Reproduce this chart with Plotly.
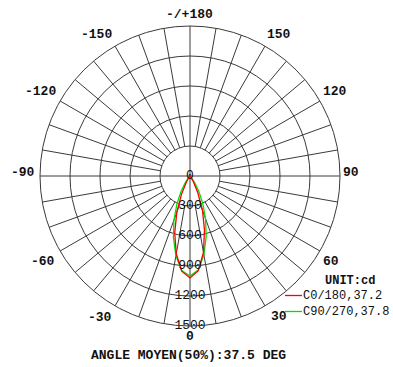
import plotly.graph_objects as go

W, H = 393, 367

# gamma angle (deg) and luminous intensity (cd)
gamma = [0, 5, 10, 15, 20, 25, 30, 35, 40, 45, 50, 60, 90]
c0 = [1020, 950, 775, 560, 365, 185, 70, 20, 5, 0, 0, 0, 0]
c180 = [1020, 955, 790, 590, 385, 200, 75, 22, 6, 0, 0, 0, 0]
c90 = [1000, 945, 800, 625, 455, 300, 175, 85, 30, 8, 0, 0, 0]
c270 = [1000, 950, 810, 640, 470, 310, 180, 88, 32, 9, 0, 0, 0]

ring_vals = [0, 300, 600, 900, 1200, 1500]
ring_text = ["0", "300", "600", "900", "1200", "1500"]

angle_text = ["0", "30", "60", "90", "120", "150", "-/+180",
              "-150", "-120", "-90", "-60", "-30"]
# label centres in pixels
angle_pos = [(190, 336), (279, 316), (331, 261), (351, 172), (335, 91), (279, 35),
             (189, 14), (96, 35), (40, 91), (23, 172), (43, 261), (100, 317)]

FONT = "Liberation Mono"
GRID = "#3a3a3a"


def px(x):
    return x / W


def py(y):
    return 1 - y / H


def label(text, x, y, size=13, xanchor="center"):
    return dict(text=text, x=px(x), y=py(y), xref="paper", yref="paper",
                showarrow=False, xanchor=xanchor, yanchor="middle",
                font=dict(family=FONT, size=size, color="#111"))


def half_curve(left, right):
    theta = [-g for g in reversed(gamma)] + gamma[1:]
    r = list(reversed(left)) + right[1:]
    return theta, r


fig = go.Figure()

# spokes every 10 deg, the four main axes go through the centre
sr, st = [], []
for a in range(0, 360, 10):
    r0 = 0 if a % 90 == 0 else 300
    sr += [r0, 1500, None]
    st += [a, a, None]
fig.add_trace(go.Scatterpolar(r=sr, theta=st, mode="lines",
                              line=dict(color=GRID, width=1), hoverinfo="skip"))

t, r = half_curve(c270, c90)
fig.add_trace(go.Scatterpolar(r=r, theta=t, mode="lines", name="C90/270,37.8",
                              line=dict(color="#00e000", width=1.3)))
t, r = half_curve(c180, c0)
fig.add_trace(go.Scatterpolar(r=r, theta=t, mode="lines", name="C0/180,37.2",
                              line=dict(color="#ff0000", width=1.3)))

# radial value labels along the 0 deg axis
fig.add_trace(go.Scatterpolar(r=ring_vals, theta=[0] * len(ring_vals), mode="text",
                              text=ring_text, textposition="middle center",
                              textfont=dict(family=FONT, size=13, color="#111"),
                              hoverinfo="skip"))

annotations = [label(f"<b>{txt}</b>", x, y) for txt, (x, y) in zip(angle_text, angle_pos)]
annotations.append(label("<b>ANGLE MOYEN(50%):37.5 DEG</b>", 188, 355))

# legend block
annotations.append(label("<b>UNIT:cd</b>", 350, 281, size=12))
shapes = []
for name, color, y in [("C0/180,37.2", "#ff0000", 295.5), ("C90/270,37.8", "#00e000", 311.5)]:
    annotations.append(label(name, 301, y, size=12, xanchor="left"))
    shapes.append(dict(type="line", xref="paper", yref="paper",
                       x0=px(285), x1=px(302), y0=py(y), y1=py(y),
                       line=dict(color=color, width=1.3)))

fig.update_layout(
    width=W, height=H,
    margin=dict(l=0, r=0, t=0, b=0),
    paper_bgcolor="white",
    showlegend=False,
    polar=dict(
        domain=dict(x=[px(40), px(340)], y=[py(326), py(26)]),
        bgcolor="white",
        radialaxis=dict(range=[0, 1500], tickvals=[300, 600, 900, 1200],
                        showticklabels=False, ticks="", showline=False,
                        showgrid=True, gridcolor=GRID, gridwidth=1),
        angularaxis=dict(rotation=-90, direction="counterclockwise",
                         showgrid=False, showticklabels=False, ticks="",
                         showline=True, linecolor=GRID, linewidth=1),
    ),
    annotations=annotations,
    shapes=shapes,
)

# drop the default 8px page margin so the figure fills the window
fig.write_html("out.html", config={"displayModeBar": False},
               post_script="document.body.style.margin='0';"
                           "document.documentElement.style.overflow='hidden';")
